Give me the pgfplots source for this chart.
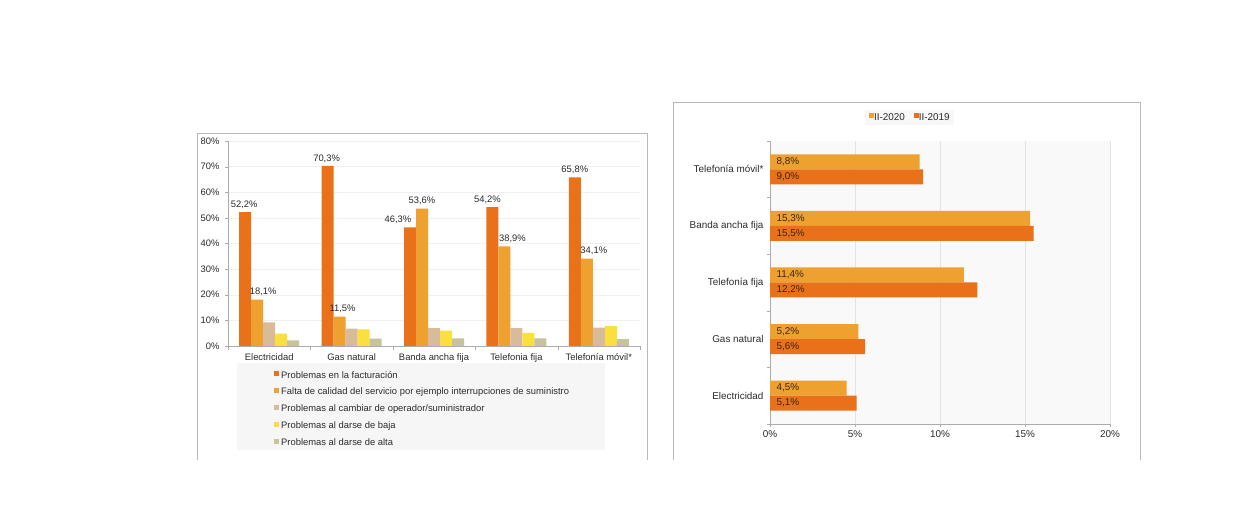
\documentclass[border=0pt]{standalone}
\usepackage{fontspec}
\setmainfont{Liberation Sans}
\usepackage{pgfplots}
\usepackage{pgfplotstable}
\pgfplotsset{compat=1.18}
\definecolor{cA}{HTML}{E8711A}
\definecolor{cB}{HTML}{EEA12F}
\definecolor{cC}{HTML}{D8BB9B}
\definecolor{cD}{HTML}{F9E03F}
\definecolor{cE}{HTML}{C7C39D}
\definecolor{txt}{HTML}{2B2B2B}
\definecolor{lbl}{HTML}{3A2614}
\newcommand{\cf}{\fontsize{9.4}{11}\selectfont}
\newcommand{\cfr}{\fontsize{9.9}{11.5}\selectfont}
\pgfplotstableread{
x f c o b a df dc
0 52.2 18.1 9.2 4.8 2.2 -1 6
1 70.3 11.5 6.8 6.5 2.9 -1 3
2 46.3 53.6 7.0 6.0 3.0 -12 0
3 54.2 38.9 7.0 5.1 3.0 -5 8
4 65.8 34.1 7.2 7.8 2.7 0 7
}\leftdata
\pgfplotstableread{
y v20 v19
0 4.5 5.1
1 5.2 5.6
2 11.4 12.2
3 15.3 15.5
4 8.8 9.0
}\rightdata
\begin{document}
\begin{tikzpicture}[x=1pt,y=1pt]
\path[use as bounding box, fill=white] (0,0) rectangle (1258,510);
\draw[gray!55, line width=0.8pt] (197,50) -- (197,377) -- (647,377) -- (647,50);
\draw[gray!55, line width=0.8pt] (673,50) -- (673,408) -- (1140,408) -- (1140,50);
\fill[gray!7] (237,60) rectangle (605,147);
\begin{axis}[
  at={(228pt,164pt)}, anchor=south west, scale only axis,
  width=412pt, height=205pt,
  ybar=0pt, bar width=12pt,
  xmin=-0.5, xmax=4.5, ymin=0, ymax=80,
  xtick={0,...,4},
  xticklabels={Electricidad, Gas natural, Banda ancha fija, Telefonia fija, Telefonía móvil*},
  minor xtick={-0.5,0.5,...,4.5},
  ytick={0,10,...,80},
  yticklabel={\pgfmathprintnumber{\tick}\%},
  /pgf/number format/assume math mode=true,
  axis x line*=bottom, axis y line*=left,
  axis line style={gray!65},
  tick align=outside, major tick length=3pt, minor tick length=4pt,
  tick style={gray!65},
  major x tick style={draw=none},
  ymajorgrids, grid style={gray!12},
  tick label style={font=\cf, text=txt},
  yticklabel style={xshift=-2pt},
  xticklabel style={yshift=-1pt},
  nodes near coords={\pgfmathprintnumber[fixed,fixed zerofill,precision=1,use comma]{\pgfplotspointmeta}\%},
  every node near coord/.append style={font=\cf, text=txt},
  legend style={at={(0.1117,-0.121)}, anchor=north west, draw=none, fill=none,
    inner sep=0pt, row sep=7.9pt, column sep=2pt, font=\cf, text=txt,
    nodes={inner sep=0pt, text height=7pt, text depth=2pt}},
  legend cell align=left,
  legend image code/.code={\fill[#1, draw=none] (0pt,-0.8pt) rectangle (5pt,4.2pt);},
]
\addplot[fill=cA, draw=none, visualization depends on={\thisrow{df}\as\dx},
  every node near coord/.append style={xshift=\dx*1pt}] table[x=x,y=f]{\leftdata};
\addlegendentry{Problemas en la facturación}
\addplot[fill=cB, draw=none, visualization depends on={\thisrow{dc}\as\dx},
  every node near coord/.append style={xshift=\dx*1pt}] table[x=x,y=c]{\leftdata};
\addlegendentry{Falta de calidad del servicio por ejemplo interrupciones de suministro}
\addplot[fill=cC, draw=none, nodes near coords=] table[x=x,y=o]{\leftdata};
\addlegendentry{Problemas al cambiar de operador/suministrador}
\addplot[fill=cD, draw=none, nodes near coords=] table[x=x,y=b]{\leftdata};
\addlegendentry{Problemas al darse de baja}
\addplot[fill=cE, draw=none, nodes near coords=] table[x=x,y=a]{\leftdata};
\addlegendentry{Problemas al darse de alta}
\end{axis}
\begin{axis}[
  at={(770pt,86pt)}, anchor=south west, scale only axis,
  width=340pt, height=283pt,
  xbar=0pt, bar width=15pt,
  xmin=0, xmax=20, ymin=-0.5, ymax=4.5,
  xtick={0,5,...,20},
  xticklabel={\pgfmathprintnumber{\tick}\%},
  /pgf/number format/assume math mode=true,
  ytick={0,...,4},
  yticklabels={Electricidad, Gas natural, Telefonía fija, Banda ancha fija, Telefonía móvil*},
  minor ytick={-0.5,0.5,...,4.5},
  axis x line*=bottom, axis y line*=left,
  axis line style={gray!65},
  axis background/.style={fill=gray!5},
  tick align=outside, major tick length=3pt, minor tick length=3pt,
  tick style={gray!65},
  major y tick style={draw=none},
  xmajorgrids, grid style={gray!22},
  tick label style={font=\cfr, text=txt},
  legend style={at={(0.41,1.083)}, anchor=center, draw=none, fill=gray!6,
    inner xsep=4pt, inner ysep=3pt, font=\cfr, text=txt, legend columns=2,
    nodes={inner sep=0pt, text height=7pt, text depth=2pt},
    /tikz/every even column/.append style={column sep=9pt}},
  legend image code/.code={\fill[#1, draw=none] (0pt,-0.8pt) rectangle (5pt,4.2pt);},
  every node near coord/.append style={font=\cfr, text=lbl, inner sep=0pt, anchor=west},
]
\addplot[fill=cB, draw=none, bar shift=7.5pt,
  nodes near coords={\pgfmathprintnumber[fixed,fixed zerofill,precision=1,use comma]{\pgfplotspointmeta}\%},
  point meta=x,
  visualization depends on={\thisrow{v20}\as\vv},
  every node near coord/.append style={xshift={-\vv*17pt+6.5pt}}] table[x=v20,y=y]{\rightdata};
\addlegendentry{II-2020}
\addplot[fill=cA, draw=none, bar shift=-7.5pt,
  nodes near coords={\pgfmathprintnumber[fixed,fixed zerofill,precision=1,use comma]{\pgfplotspointmeta}\%},
  point meta=x,
  visualization depends on={\thisrow{v19}\as\vv},
  every node near coord/.append style={xshift={-\vv*17pt+6.5pt}}] table[x=v19,y=y]{\rightdata};
\addlegendentry{II-2019}
\end{axis}
\end{tikzpicture}
\end{document}
